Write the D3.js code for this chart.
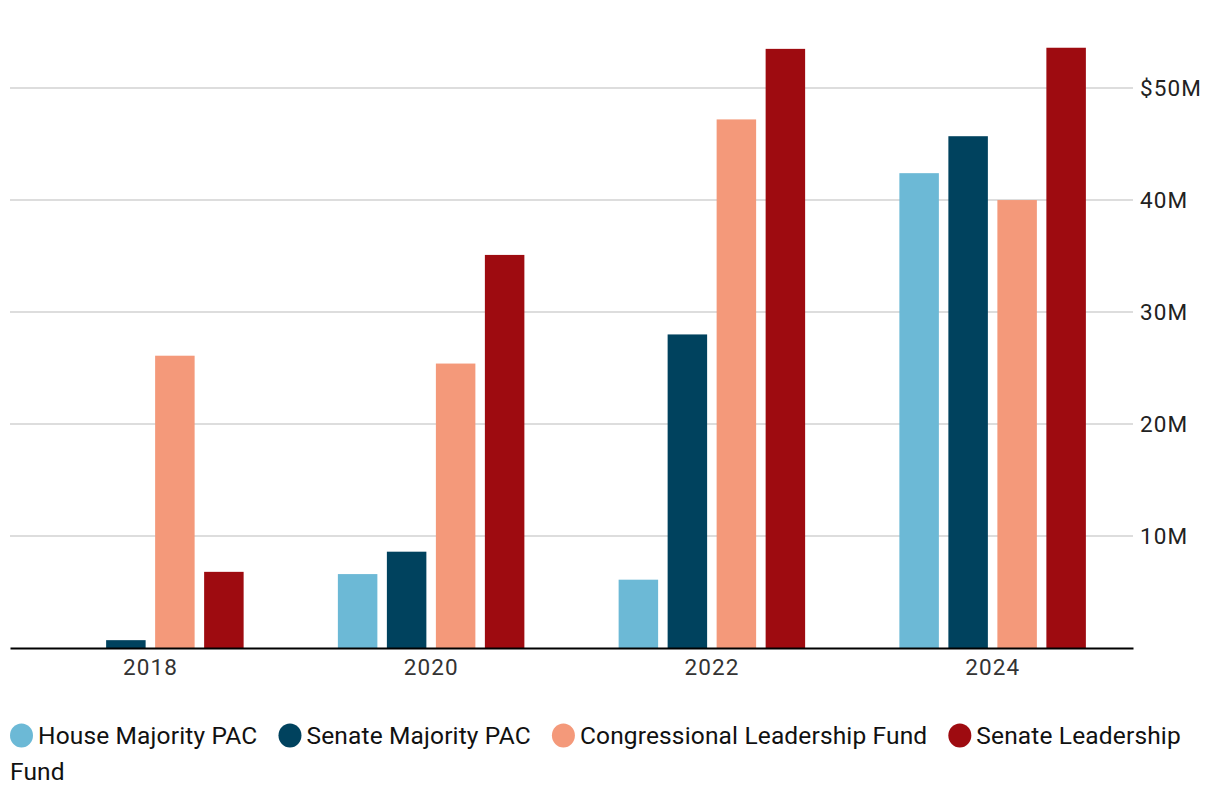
<!DOCTYPE html>
<html><head><meta charset="utf-8">
<script src="https://cdn.jsdelivr.net/npm/d3@7"></script>
<style>
body{margin:0;background:#fff;font-family:Roboto,"Noto Sans",sans-serif;}
</style></head>
<body>
<svg id="chart" width="1220" height="806" style="position:absolute;left:0;top:0"></svg>
<script>
const years = ["2018","2020","2022","2024"];
const seriesNames = ["House Majority PAC","Senate Majority PAC","Congressional Leadership Fund","Senate Leadership Fund"];
const seriesColors = ["#6cb9d6","#00425e","#f4997a","#9e0b10"];
const houseMajorityPAC = [null, 6.6, 6.1, 42.4];
const senateMajorityPAC = [0.7, 8.6, 28.0, 45.7];
const congressionalLeadershipFund = [26.1, 25.4, 47.2, 40.0];
const senateLeadershipFund = [6.8, 35.1, 53.5, 53.6];
const yTicks = [10,20,30,40,50];
const yTickLabels = ["10M","20M","30M","40M","$50M"];

const values = [houseMajorityPAC, senateMajorityPAC, congressionalLeadershipFund, senateLeadershipFund];
const svg = d3.select("#chart");
const mLeft = 10, mRight = 1133, mTop = 24, mBottom = 648;

const y = d3.scaleLinear().domain([0, 55.72]).range([mBottom, mTop]);
const x0 = d3.scaleBand().domain(years).range([mLeft, mRight]).padding(0);
const inner = 186.5;
const x1 = d3.scaleBand().domain(seriesNames).range([(x0.bandwidth()-inner)/2, (x0.bandwidth()+inner)/2]).paddingInner(0.194).paddingOuter(0);

// gridlines
svg.append("g").selectAll("line").data(yTicks).join("line")
  .attr("x1", mLeft).attr("x2", mRight)
  .attr("y1", d => y(d)).attr("y2", d => y(d))
  .attr("stroke", "#dddddd").attr("stroke-width", 2);

// y labels
const yAxis = d3.axisRight(y).tickValues(yTicks).tickSize(0).tickPadding(0)
  .tickFormat((d,i) => yTickLabels[i]);
const ya = svg.append("g").attr("transform", `translate(${mRight+7},0)`).call(yAxis);
ya.select(".domain").remove();
ya.selectAll("text").attr("font-size", 22.5).attr("fill", "#222").attr("font-family","Roboto,sans-serif")
  .attr("letter-spacing", 1.1).attr("dy","0.35em");

// bars
const groups = svg.append("g").selectAll("g").data(years).join("g")
  .attr("transform", d => `translate(${x0(d)},0)`);
groups.selectAll("rect")
  .data((yr, i) => seriesNames.map((s, k) => ({s, k, v: values[k][i]})).filter(d => d.v != null))
  .join("rect")
  .attr("x", d => x1(d.s)).attr("width", x1.bandwidth())
  .attr("y", d => y(d.v)).attr("height", d => mBottom - y(d.v))
  .attr("fill", d => seriesColors[d.k]);

// x axis
const xAxis = d3.axisBottom(x0).tickSize(0).tickPadding(11);
const xa = svg.append("g").attr("transform", `translate(0,${mBottom})`).call(xAxis);
xa.select(".domain").attr("stroke", "#000").attr("stroke-width", 2.2);
xa.selectAll("text").attr("font-size", 22.5).attr("fill", "#333").attr("font-family","Roboto,sans-serif")
  .attr("letter-spacing", 1.1);

// legend (SVG, word-wrapped)
const lg = svg.append("g").attr("font-family","Roboto,sans-serif").attr("font-size", 24.5)
  .attr("letter-spacing", 0.15).attr("fill", "#111");
const legLeft = 10, legMax = 1205, lineH = 36;
let cx = legLeft, row = 0;
const rowY = r => 735.5 + r * lineH;
function measure(t) {
  const n = lg.append("text").text(t);
  const w = n.node().getComputedTextLength();
  n.remove();
  return w;
}
seriesNames.forEach((name, k) => {
  const words = name.split(" ");
  const firstW = measure(words[0]);
  if (cx + 28 + firstW > legMax) { row++; cx = legLeft; }
  lg.append("ellipse").attr("cx", cx + 11.5).attr("cy", rowY(row)).attr("rx", 11.5).attr("ry", 12)
    .attr("fill", seriesColors[k]);
  cx += 28;
  let line = [];
  let startX = cx;
  words.forEach(w => {
    const trial = line.concat([w]).join(" ");
    if (line.length && startX + measure(trial) > legMax) {
      lg.append("text").attr("x", startX).attr("y", rowY(row)).attr("dy", "0.35em").text(line.join(" "));
      row++; startX = legLeft; line = [w];
    } else {
      line.push(w);
    }
  });
  const t = line.join(" ");
  lg.append("text").attr("x", startX).attr("y", rowY(row)).attr("dy", "0.35em").text(t);
  cx = startX + measure(t) + 21;
});
</script>
</body></html>
